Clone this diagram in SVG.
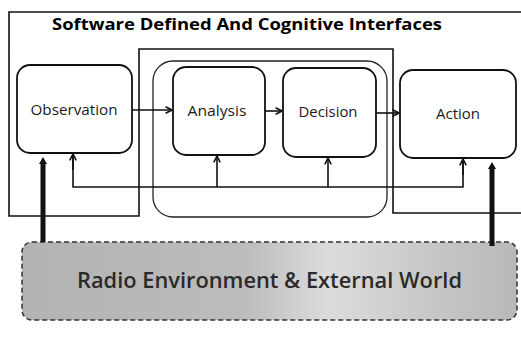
<svg xmlns="http://www.w3.org/2000/svg" width="521" height="337" viewBox="0 0 521 337">
<style>
.box{fill:#fff;stroke:#111;stroke-width:1.8}
.ln{fill:none;stroke:#111;stroke-width:1.6}
.thin{fill:none;stroke:#222;stroke-width:1.3}
.lbl{font-family:"Open Sans","Liberation Sans",sans-serif;font-size:14px;fill:#1a1a1a;text-anchor:middle}
.title{font-family:"Open Sans","Liberation Sans",sans-serif;font-size:16px;font-weight:bold;fill:#000}
.env{font-family:"Open Sans","Liberation Sans",sans-serif;font-size:21px;font-weight:600;fill:#2a2a2a}
.thick{stroke:#111;stroke-width:5;fill:none}
</style>
<defs>
<marker id="ah" viewBox="0 0 10 10" refX="9" refY="5" markerWidth="8" markerHeight="8" markerUnits="userSpaceOnUse" orient="auto">
<path d="M1,1 L9,5 L1,9" fill="none" stroke="#111" stroke-width="2"/>
</marker>
<linearGradient id="envg" x1="0" y1="0" x2="1" y2="0">
<stop offset="0" stop-color="#b3b3b3"/>
<stop offset="0.45" stop-color="#bcbcbc"/>
<stop offset="0.62" stop-color="#dcdcdc"/>
<stop offset="0.8" stop-color="#cacaca"/>
<stop offset="1" stop-color="#b8b8b8"/>
</linearGradient>
</defs>
<g id="boundary">
<path class="ln" d="M521,12 H9 V216 H139 V49 H393 V213 H521"/>
<text class="title" x="52" y="30" textLength="390" lengthAdjust="spacingAndGlyphs">Software Defined And Cognitive Interfaces</text>
</g>
<g id="container">
<rect x="153" y="61" width="234" height="156" rx="20" class="thin"/>
</g>
<g id="environment">
<rect x="22" y="242" width="495" height="78" rx="10" fill="url(#envg)" stroke="#333" stroke-width="1.5" stroke-dasharray="5,3"/>
<text class="env" x="77" y="288" textLength="385" lengthAdjust="spacingAndGlyphs">Radio Environment &amp; External World</text>
</g>
<g id="observation">
<rect x="17" y="65" width="115" height="88" rx="13" class="box"/>
<text class="lbl" x="74" y="115" textLength="87" lengthAdjust="spacingAndGlyphs">Observation</text>
</g>
<g id="analysis">
<rect x="173" y="67" width="92" height="88" rx="13" class="box"/>
<text class="lbl" x="217" y="116" textLength="59" lengthAdjust="spacingAndGlyphs">Analysis</text>
</g>
<g id="decision">
<rect x="283" y="68" width="93" height="89" rx="13" class="box"/>
<text class="lbl" x="328" y="117" textLength="59" lengthAdjust="spacingAndGlyphs">Decision</text>
</g>
<g id="action">
<rect x="400" y="70" width="116" height="88" rx="13" class="box"/>
<text class="lbl" x="458" y="119" textLength="44" lengthAdjust="spacingAndGlyphs">Action</text>
</g>
<g id="connectors">
<line class="ln" x1="132" y1="110" x2="172" y2="110" marker-end="url(#ah)"/>
<line class="ln" x1="265" y1="111" x2="282" y2="111" marker-end="url(#ah)"/>
<line class="ln" x1="376" y1="113" x2="399" y2="113" marker-end="url(#ah)"/>
<path class="ln" d="M73,154 V187 H463 V159"/>
<line class="ln" x1="73" y1="170" x2="73" y2="154" marker-end="url(#ah)"/>
<line class="ln" x1="217" y1="187" x2="217" y2="156" marker-end="url(#ah)"/>
<line class="ln" x1="328" y1="187" x2="328" y2="158" marker-end="url(#ah)"/>
<line class="ln" x1="463" y1="175" x2="463" y2="159" marker-end="url(#ah)"/>
<line class="thick" x1="43" y1="242" x2="43" y2="163"/>
<path d="M39,164 L43,157 L47,164 Z" fill="#111"/>
<line class="thick" x1="492" y1="246" x2="492" y2="168"/>
<path d="M488,169 L492,162 L496,169 Z" fill="#111"/>
</g>
</svg>
